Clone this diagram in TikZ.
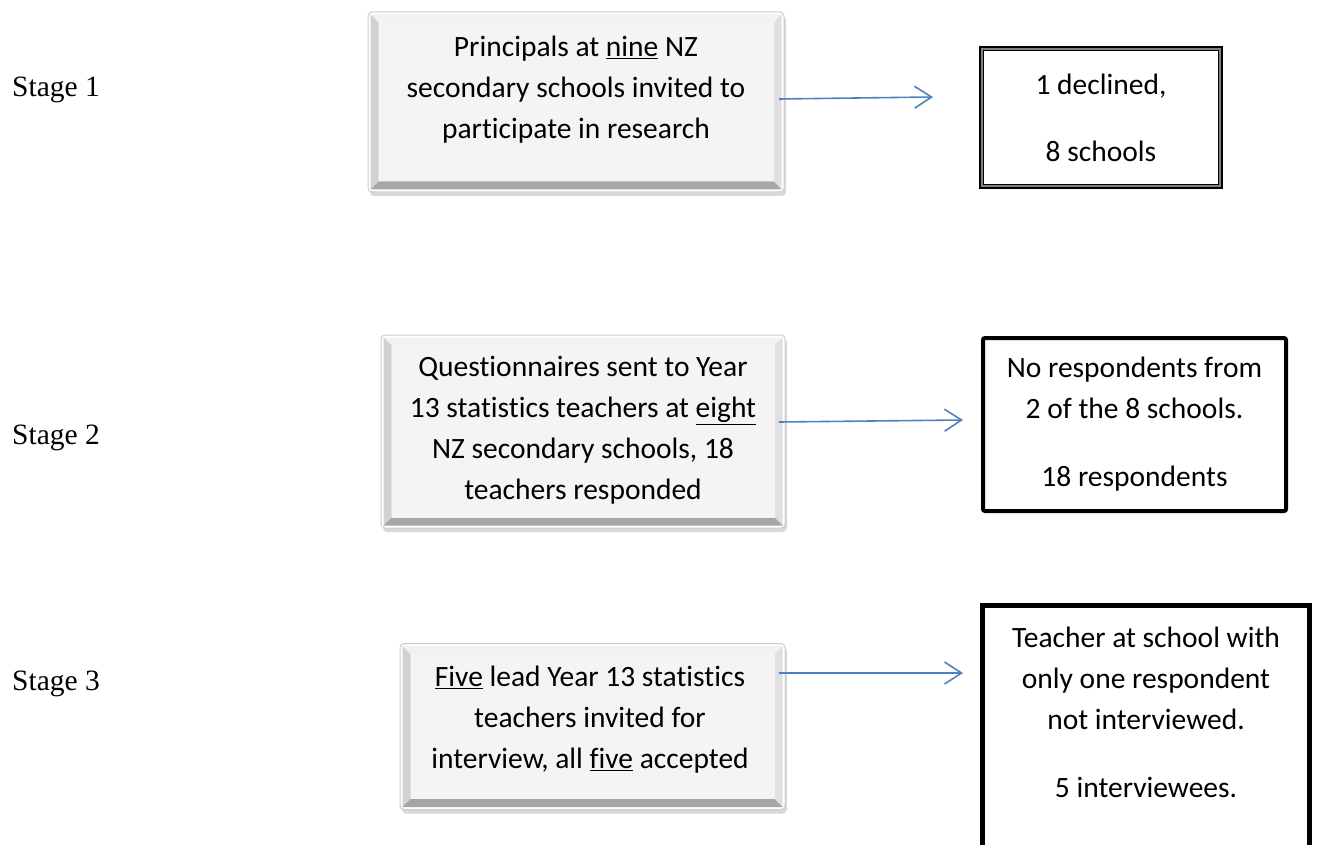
\documentclass[tikz,border=0pt]{standalone}
\usepackage{fontspec}
\setmainfont{Carlito}[Ligatures=CommonOff]
\newfontfamily\stagefont{Liberation Serif}
\usetikzlibrary{arrows.meta,shadows,calc}
\definecolor{arrowblue}{HTML}{4F81BD}
\definecolor{faceg}{HTML}{F4F4F4}
\tikzset{
  outerbox/.style={draw=black!20, fill=white, rounded corners=4pt, line width=1pt,
    inner sep=0pt, drop shadow={opacity=0.3, shadow xshift=2pt, shadow yshift=-4pt}},
  bevtop/.style={fill=black!5},
  bevleft/.style={fill=black!18},
  bevright/.style={fill=black!12},
  bevbot/.style={fill=black!35},
  face/.style={fill=faceg},
  boxtext/.style={font=\fontsize{29.5}{41}\selectfont, align=center, inner sep=0pt},
  stagelabel/.style={font=\stagefont\fontsize{29.5}{34}\selectfont, anchor=base west, inner sep=0pt},
  resultbox/.style={draw=black, line width=5pt, fill=white, inner sep=0pt,
    font=\fontsize{29.5}{41}\selectfont, align=center},
  flow/.style={draw=arrowblue, line width=1.6pt, -{Straight Barb[length=17pt,width=22pt,line width=1.6pt]}}
}
\newcommand\mybevel[1]{%
  \path (#1.north west) coordinate (#1o1) (#1.north east) coordinate (#1o2)
        (#1.south east) coordinate (#1o3) (#1.south west) coordinate (#1o4);
  \path ($(#1o1)+(3,3)$) coordinate (#1b1) ($(#1o2)+(-3,3)$) coordinate (#1b2)
        ($(#1o3)+(-3,-3)$) coordinate (#1b3) ($(#1o4)+(3,-3)$) coordinate (#1b4);
  \path ($(#1o1)+(11,11)$) coordinate (#1i1) ($(#1o2)+(-11,11)$) coordinate (#1i2)
        ($(#1o3)+(-11,-11)$) coordinate (#1i3) ($(#1o4)+(11,-11)$) coordinate (#1i4);
  \fill[bevtop] (#1b1) -- (#1b2) -- (#1i2) -- (#1i1) -- cycle;
  \fill[bevleft] (#1b1) -- (#1i1) -- (#1i4) -- (#1b4) -- cycle;
  \fill[bevright] (#1b2) -- (#1b3) -- (#1i3) -- (#1i2) -- cycle;
  \fill[bevbot] (#1b4) -- (#1i4) -- (#1i3) -- (#1b3) -- cycle;
  \fill[face] (#1i1) rectangle (#1i3);
}
\begin{document}
\begin{tikzpicture}[x=1pt,y=-1pt]
\useasboundingbox (0,0) rectangle (1317,845);

% stage labels
\node[stagelabel] (s1) at (12,97) {Stage 1};
\node[stagelabel] (s2) at (12,444) {Stage 2};
\node[stagelabel] (s3) at (12,690) {Stage 3};

% left bevel boxes
\node[outerbox, minimum width=416pt, minimum height=180pt] (L1) at (576,102) {};
\mybevel{L1}
\node[boxtext] (t1) at (576,90) {Principals at \underline{nine} NZ\\secondary schools invited to\\participate in research};

\node[outerbox, minimum width=404pt, minimum height=193pt] (L2) at (583,431.5) {};
\mybevel{L2}
\node[boxtext] (t2) at (583,430) {Questionnaires sent to Year\\13 statistics teachers at \underline{eight}\\NZ secondary schools, 18\\teachers responded};

\node[outerbox, minimum width=385pt, minimum height=166pt] (L3) at (592.5,726.5) {};
\mybevel{L3}
\node[boxtext] (t3) at (590,720) {\underline{Five} lead Year 13 statistics\\teachers invited for\\interview, all \underline{five} accepted};

% right result boxes
\node[resultbox, minimum width=239pt, minimum height=138pt] (R1) at (1101,117.5)
  {1 declined,\\[26pt]8 schools};
\draw[black!50, line width=1.2pt] ($(R1.north west)+(3.0,3.0)$) rectangle ($(R1.south east)+(-3.0,-3.0)$);

\node[resultbox, line width=4pt, rounded corners=2pt, minimum width=303pt, minimum height=173pt] (R2) at (1134.5,424.5)
  {No respondents from\\2 of the 8 schools.\\[27pt]18 respondents};

\node[resultbox, minimum width=327pt, minimum height=280pt] (R3) at (1146,745.5) {};
\node[boxtext] (t6) at (1146,712) {Teacher at school with\\only one respondent\\not interviewed.\\[27pt]5 interviewees.};

% connectors
\coordinate (a1s) at (779,99);  \coordinate (a1e) at (933,97);
\coordinate (a2s) at (779,422); \coordinate (a2e) at (963,420);
\coordinate (a3s) at (779,673); \coordinate (a3e) at (963,673);
\draw[flow] (a1s) -- (a1e);
\draw[flow] (a2s) -- (a2e);
\draw[flow] (a3s) -- (a3e);
\end{tikzpicture}
\end{document}
